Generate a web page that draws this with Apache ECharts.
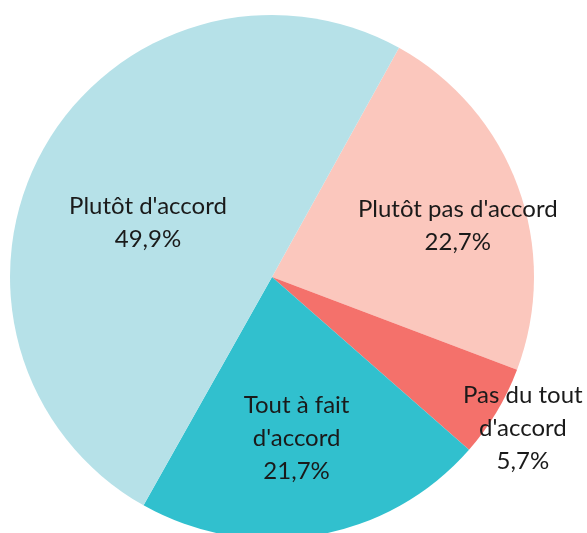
<!DOCTYPE html>
<html>
<head>
<meta charset="utf-8">
<script src="https://cdn.jsdelivr.net/npm/echarts@6/dist/echarts.min.js"></script>
<style>
  html, body { margin: 0; padding: 0; background: #fff; }
  #chart { width: 587px; height: 533px; }
</style>
</head>
<body>
<div id="chart"></div>
<script>
const chart = echarts.init(document.getElementById("chart"));

// slices in clockwise order, starting at the top-right
const categories = ["Plutôt pas d'accord", "Pas du tout\nd'accord", "Tout à fait\nd'accord", "Plutôt d'accord"];
const shares = [22.7, 5.7, 21.7, 49.9];
const colors = ["#FBC7BD", "#F4716B", "#31C0CE", "#B6E1E8"];
const labelOffsets = [[60, -5], [136, 82], [2, 29], [-7, 11]];

chart.setOption({
  animation: false,
  series: [{
    type: "pie",
    center: [272, 277],
    radius: [0, 262],
    startAngle: 61,
    clockwise: true,
    itemStyle: { borderWidth: 0 },
    label: {
      show: true,
      position: "inside",
      color: "#1a1a1a",
      fontFamily: "Lato",
      fontSize: 24,
      lineHeight: 33,
      formatter: p => `${p.name}\n${p.value.toFixed(1).replace(".", ",")}%`
    },
    labelLine: { show: false },
    data: categories.map((name, i) => ({
      name,
      value: shares[i],
      itemStyle: { color: colors[i] },
      label: { offset: labelOffsets[i] }
    }))
  }]
});
</script>
</body>
</html>
